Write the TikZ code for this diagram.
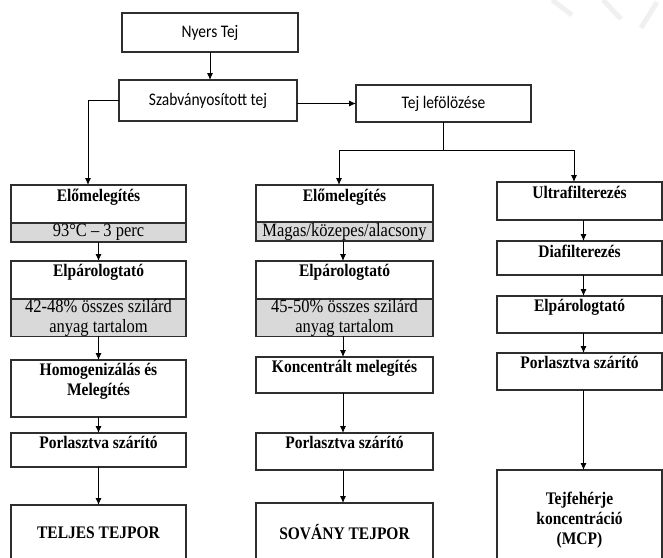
\documentclass[tikz,border=0pt]{standalone}
\usepackage{graphicx}
\usepackage{fontspec}
\setmainfont{Liberation Serif}
\newfontfamily\carlito{Carlito}
\usetikzlibrary{arrows.meta}
\definecolor{bandgray}{HTML}{D9D9D9}
\definecolor{edgegray}{HTML}{2E2E2E}
\newcommand{\tall}[1]{\scalebox{1}[1.14]{#1}}

\begin{document}
\begin{tikzpicture}
	[
	x=1pt, y=-1pt,
	> = {Latex[length=7pt,width=6pt]},
	box/.style = {draw=edgegray, line width=1.2pt, anchor=north west, inner sep=0pt, outer sep=0pt, fill=white},
	topbox/.style = {box, font=\carlito\fontsize{15.5}{18}\selectfont},
	band/.style = {box, fill=bandgray, align=center, font=\fontsize{16.5}{20}\selectfont},
	endbox/.style = {box, align=center, font=\bfseries\fontsize{15.5}{20}\selectfont},
	title/.style = {anchor=north, yshift=-1.5pt, inner sep=2pt, align=center, font=\bfseries\fontsize{15.5}{20}\selectfont},
	flow/.style = {->, line width=0.9pt}
	]

	\useasboundingbox (0,0) rectangle (663,557);
	\clip (0,0) rectangle (663,557);

	% faint watermark strokes
	\draw[gray!12, line width=5pt] (552,0) -- (572,15);
	\draw[gray!12, line width=5pt] (603,0) -- (621,19);
	\draw[gray!12, line width=5pt] (657,2) -- (641,28);

	% top row
	\node[topbox, minimum width=176, minimum height=39] (raw) at (122,13) {\tall{Nyers Tej}};
	\node[topbox, minimum width=178, minimum height=41] (std) at (119,80) {\tall{Szabványosított tej}};
	\node[topbox, minimum width=175, minimum height=37] (skim) at (356,85) {\tall{Tej lefölözése}};

	% left column: teljes tejpor
	\node[box, minimum width=175, minimum height=38] (pre1) at (11,185) {};
	\node[band, minimum width=175, minimum height=19] (pre1g) at (pre1.south west) {\tall{93°C – 3 perc}};
	\node[box, minimum width=175, minimum height=38] (evap1) at (11,261) {};
	\node[band, minimum width=175, minimum height=37] (evap1g) at (evap1.south west) {\tall{42-48\% összes szilárd}\\\tall{anyag tartalom}};
	\node[box, minimum width=175, minimum height=57] (homog) at (11,360) {};
	\node[box, minimum width=175, minimum height=34] (spray1) at (11,433) {};
	\node[endbox, minimum width=175, minimum height=56] (whole) at (11,505) {\tall{TELJES TEJPOR}};

	\node[title] (pre1t) at (pre1.north) {\tall{Előmelegítés}};
	\node[title] (evap1t) at (evap1.north) {\tall{Elpárologtató}};
	\node[title] (homogt) at (homog.north) {\tall{Homogenizálás és}\\\tall{Melegítés}};
	\node[title] (spray1t) at (spray1.north) {\tall{Porlasztva szárító}};

	% middle column: sovány tejpor
	\node[box, minimum width=177, minimum height=37] (pre2) at (256,185) {};
	\node[band, minimum width=177, minimum height=19] (pre2g) at (pre2.south west) {\tall{Magas/közepes/alacsony}};
	\node[box, minimum width=177, minimum height=38] (evap2) at (256,261) {};
	\node[band, minimum width=177, minimum height=37] (evap2g) at (evap2.south west) {\tall{45-50\% összes szilárd}\\\tall{anyag tartalom}};
	\node[box, minimum width=177, minimum height=36] (conc) at (256,357) {};
	\node[box, minimum width=177, minimum height=37] (spray2) at (256,433) {};
	\node[endbox, minimum width=177, minimum height=58] (skimmed) at (256,503) {\tall{SOVÁNY TEJPOR}};

	\node[title] (pre2t) at (pre2.north) {\tall{Előmelegítés}};
	\node[title] (evap2t) at (evap2.north) {\tall{Elpárologtató}};
	\node[title] (conct) at (conc.north) {\tall{Koncentrált melegítés}};
	\node[title] (spray2t) at (spray2.north) {\tall{Porlasztva szárító}};

	% right column: tejfeherje
	\node[box, minimum width=165, minimum height=38] (ultra) at (497,182) {};
	\node[box, minimum width=165, minimum height=34] (dia) at (497,241) {};
	\node[box, minimum width=165, minimum height=37] (evap3) at (497,296) {};
	\node[box, minimum width=165, minimum height=37] (spray3) at (497,353) {};
	\node[endbox, minimum width=165, minimum height=100] (mcp) at (497,470) {\tall{Tejfehérje}\\\tall{koncentráció}\\\tall{(MCP)}};

	\node[title] (ultrat) at (ultra.north) {\tall{Ultrafilterezés}};
	\node[title] (diat) at (dia.north) {\tall{Diafilterezés}};
	\node[title] (evap3t) at (evap3.north) {\tall{Elpárologtató}};
	\node[title] (spray3t) at (spray3.north) {\tall{Porlasztva szárító}};

	% connectors
	\draw[flow] (raw.south) -- (raw.south |- std.north);
	\draw[flow] (std.west) -| ([xshift=-10.5pt]pre1.north);
	\draw[flow] (std.east |- skim.west) -- (skim.west);
	\coordinate (split) at ([yshift=-28pt]skim.south);
	\draw[line width=0.9pt] (skim.south) -- (split);
	\draw[flow] (split) -| ([xshift=-5.5pt]pre2.north);
	\draw[flow] (split) -| ([xshift=-5.5pt]ultra.north);

	\draw[flow] (pre1g) -- (evap1);
	\draw[flow] (evap1g) -- (homog);
	\draw[flow] (homog) -- (spray1);
	\draw[flow] (spray1) -- (whole);

	\draw[flow] ([xshift=-1.5pt]pre2g.south) -- ([xshift=-1.5pt]evap2.north);
	\draw[flow] ([xshift=-1.5pt]evap2g.south) -- ([xshift=-1.5pt]conc.north);
	\draw[flow] ([xshift=-1.5pt]conc.south) -- ([xshift=-1.5pt]spray2.north);
	\draw[flow] ([xshift=-1.5pt]spray2.south) -- ([xshift=-1.5pt]skimmed.north);

	\draw[flow] ([xshift=4pt]ultra.south) -- ([xshift=4pt]dia.north);
	\draw[flow] ([xshift=4pt]dia.south) -- ([xshift=4pt]evap3.north);
	\draw[flow] ([xshift=4pt]evap3.south) -- ([xshift=4pt]spray3.north);
	\draw[flow] ([xshift=4pt]spray3.south) -- ([xshift=4pt]mcp.north);

\end{tikzpicture}
\end{document}
